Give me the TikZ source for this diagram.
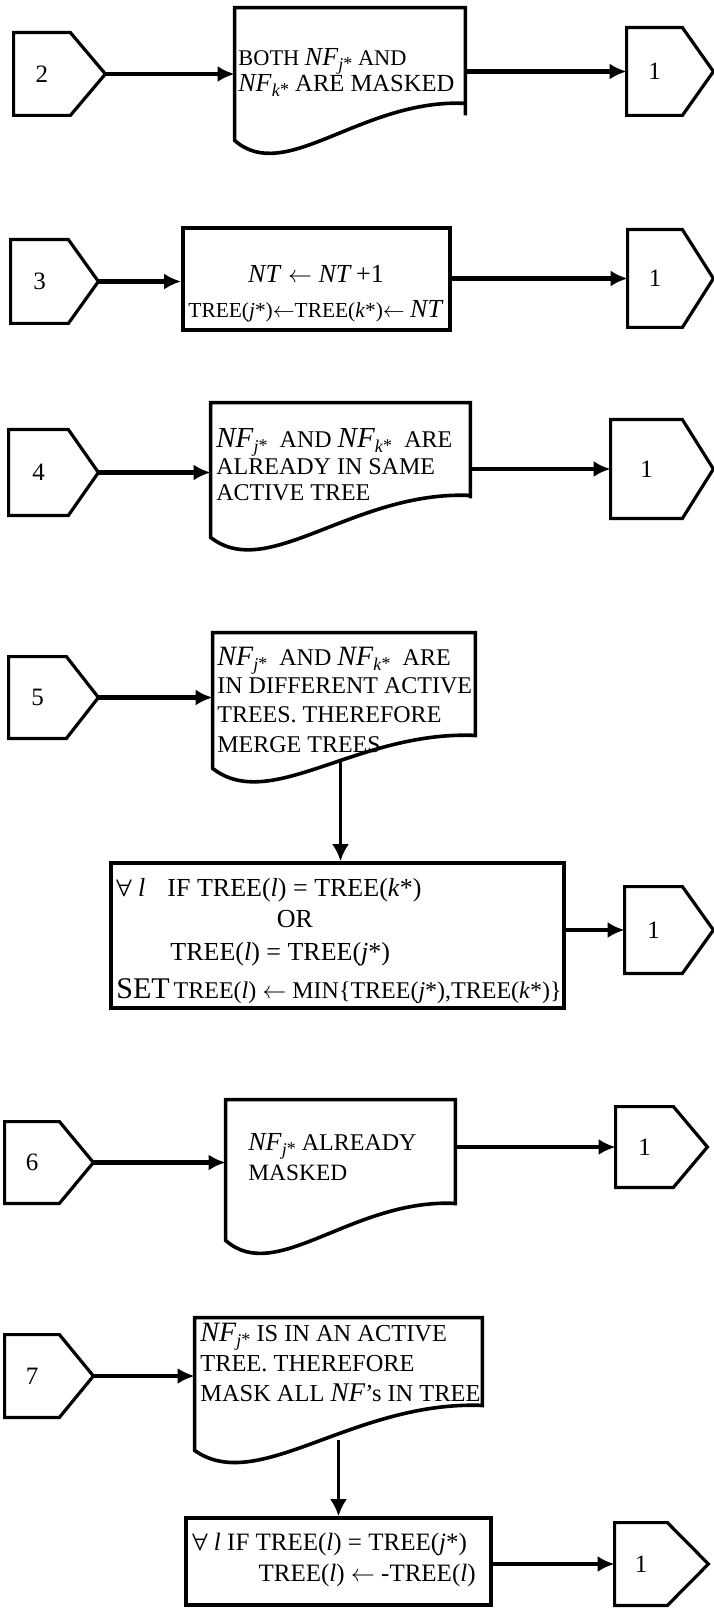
\documentclass[tikz,border=0pt]{standalone}
\usepackage{fontspec}
\setmainfont{Liberation Serif}
\usetikzlibrary{arrows.meta,calc}

\newcommand{\NFsub}[2][13]{{\fontsize{#1}{#1}\selectfont\textit{NF}}\raisebox{-2.5pt}{\fontsize{9}{9}\selectfont\textit{#2}\raisebox{0.5pt}{*}}}
\newcommand{\NFbig}{{\fontsize{13.5}{13.5}\selectfont\textit{NF}}}
\newcommand{\fa}{{\boldmath$\forall$}}

\tikzset{
  pentline/.style={line width=1.6pt, line join=miter},
  boxline/.style={line width=1.8pt, line join=miter},
  conn/.style={line width=2.4pt, -{Latex[length=8.5pt,width=8pt]}},
  vconn/.style={line width=1.8pt, -{Latex[length=8.5pt,width=8.5pt]}},
  pent/.style={draw=none, inner sep=0, font=\fontsize{12.5}{12.5}\selectfont},
  shell/.style={draw=none, inner sep=0},
  rbox/.style={draw, line width=1.8pt, inner sep=0},
  txt/.style={inner sep=0, anchor=base west, font=\fontsize{#1}{#1}\selectfont},
  txt/.default=12
}

% name, left, top, flat end, bottom, label
\newcommand{\pentnode}[6]{\node[pent, minimum width={(#4-#2)*0.5pt}, minimum height={(#5-#3)*0.5pt}] (#1) at ({(#2+#4)/2},{(#3+#5)/2}) {#6};}
% name, tip length
\newcommand{\pentdraw}[2]{\coordinate (#1tip) at ($(#1.east)+(#2,0)$);
  \draw[pentline] (#1.north west) -- (#1.north east) -- (#1tip) -- (#1.south east) -- (#1.south west) -- cycle;}
% [style] name, left, top, right, bottom
\newcommand{\boxat}[6][shell]{\node[#1, minimum width={(#5-#3)*0.5pt}, minimum height={(#6-#4)*0.5pt}] (#2) at ({(#3+#5)/2},{(#4+#6)/2}) {};}
% name, left drop below right bottom, rise of wave end above right bottom
\newcommand{\docdraw}[3]{\draw[boxline] (#1.south east) -- (#1.north east) -- (#1.north west) -- ($(#1.south west)+(0,#2)$)
  .. controls ($(#1.south west)!0.22!(#1.south east)+(0,#2+45)$) and ($(#1.south west)!0.55!(#1.south east)+(0,-#3-5)$) .. ($(#1.south east)+(0,-#3)$);}

\begin{document}
\begin{tikzpicture}[x=0.5pt,y=-0.5pt]
\path[use as bounding box] (0,0) rectangle (713,1609);

% ---------- Row 2 ----------
\pentnode{p2}{14}{33}{70}{115}{2}
\pentdraw{p2}{35}
\boxat{d1}{235}{8}{465}{115}
\docdraw{d1}{25}{12}
\node[txt=11.2] (d1a) at (238,66) {BOTH \NFsub{j} AND};
\node[txt=12.3] (d1b) at (238,92) {\NFsub{k}\ ARE MASKED};
\pentnode{p1a}{627}{28}{682}{115}{1}
\pentdraw{p1a}{31}
\draw[conn] (p2tip) -- (p2tip -| d1.west);
\draw[conn] (d1.east |- p1a.west) -- (p1a.west);

% ---------- Row 3 ----------
\pentnode{p3}{11}{240}{68}{323}{3}
\pentdraw{p3}{30}
\boxat[rbox]{r3}{183}{228}{450}{330}
\node[txt=13, anchor=base] (r3a) at (316,283) {\textit{NT} $\leftarrow$ \textit{NT}\,+1};
\node[txt=10.7, anchor=base] (r3b) at (316,318) {TREE(\textit{j}*)$\leftarrow$TREE(\textit{k}*)$\leftarrow$ {\fontsize{13}{13}\selectfont\textit{NT}}};
\pentnode{p1b}{628}{230}{682}{327}{1}
\pentdraw{p1b}{31}
\draw[conn] (p3tip) -- (p3tip -| r3.west);
\draw[conn] (r3.east |- p1b.west) -- (p1b.west);

% ---------- Row 4 ----------
\pentnode{p4}{9}{430}{68}{515}{4}
\pentdraw{p4}{30}
\boxat{d4}{211}{403}{470}{498}
\docdraw{d4}{39}{3}
\node[txt] (d4a) at (216,447) {\NFsub[14.5]{j}\ \ AND \NFsub[14.5]{k}\ \ ARE};
\node[txt] (d4b) at (216,474) {ALREADY IN SAME};
\node[txt] (d4c) at (216,500) {ACTIVE TREE};
\pentnode{p1c}{611}{420}{682}{518}{1}
\pentdraw{p1c}{31}
\draw[conn] (p4tip) -- (p4tip -| d4.west);
\draw[conn] (d4.east |- p1c.west) -- (p1c.west);

% ---------- Row 5 ----------
\pentnode{p5}{9}{657}{66}{738}{5}
\pentdraw{p5}{32}
\boxat{d5}{213}{633}{475}{737}
\docdraw{d5}{31}{2}
\node[txt] (d5a) at (217,665) {\NFsub[14]{j}\ \ AND \NFsub[14]{k}\ \ ARE};
\node[txt] (d5b) at (217,693) {IN DIFFERENT ACTIVE};
\node[txt] (d5c) at (217,722) {TREES. THEREFORE};
\node[txt] (d5d) at (217,752) {MERGE TREES};
\boxat[rbox]{r5}{111}{863}{564}{1008}
\node[txt=13] (r5a) at (116,896) {\fa\ \textit{l}\hspace{11pt}IF TREE(\textit{l}) = TREE(\textit{k}*)};
\node[txt=13, anchor=base] (r5b) at (295,927) {OR};
\node[txt=13] (r5c) at (170,960) {TREE(\textit{l}) = TREE(\textit{j}*)};
\node[txt] (r5d) at (116,998) {{\fontsize{15}{15}\selectfont SET}\,TREE(\textit{l}) $\leftarrow$ MIN\{TREE(\textit{j}*),TREE(\textit{k}*)\}};
\pentnode{p1d}{625}{887}{682}{973}{1}
\pentdraw{p1d}{31}
\draw[conn] (p5tip) -- (p5tip -| d5.west);
\draw[vconn] ($(r5.north |- d5.south)+(3,25)$) -- ($(r5.north)+(3,0)$);
\draw[conn] (r5.east |- p1d.west) -- (p1d.west);

% ---------- Row 6 ----------
\pentnode{p6}{5}{1122}{59}{1203}{6}
\pentdraw{p6}{34}
\boxat{d6}{226}{1100}{455}{1205}
\docdraw{d6}{35}{2}
\node[txt] (d6a) at (248,1150) {\NFsub{j}\ ALREADY};
\node[txt=11.7] (d6b) at (248,1180) {MASKED};
\pentnode{p1e}{616}{1107}{673}{1187}{1}
\pentdraw{p1e}{34}
\draw[conn] (p6tip) -- (p6tip -| d6.west);
\draw[conn] (d6.east |- p1e.west) -- (p1e.west);

% ---------- Row 7 ----------
\pentnode{p7}{5}{1335}{59}{1417}{7}
\pentdraw{p7}{34}
\boxat{d7}{195}{1318}{482}{1407}
\docdraw{d7}{43}{2}
\node[txt=12.2] (d7a) at (200,1341) {\NFsub[14]{j}\ IS IN AN ACTIVE};
\node[txt=12.2] (d7b) at (200,1371) {TREE. THEREFORE};
\node[txt=12.2] (d7c) at (200,1401) {MASK ALL \NFbig's IN TREE};
\boxat[rbox]{r7}{186}{1518}{491}{1605}
\node[txt=12.5] (r7a) at (192,1550) {\fa\ \textit{l} IF TREE(\textit{l}) = TREE(\textit{j}*)};
\node[txt=12.5, anchor=base east] (r7b) at (476,1581) {TREE(\textit{l}) $\leftarrow$ -TREE(\textit{l})};
\pentnode{p1f}{615}{1523}{667}{1605}{1}
\pentdraw{p1f}{41}
\draw[conn] (p7tip) -- (p7tip -| d7.west);
\draw[vconn] ($(r7.north |- d7.south)+(0,33)$) -- (r7.north);
\draw[conn] (r7.east |- p1f.west) -- (p1f.west);
\end{tikzpicture}
\end{document}
